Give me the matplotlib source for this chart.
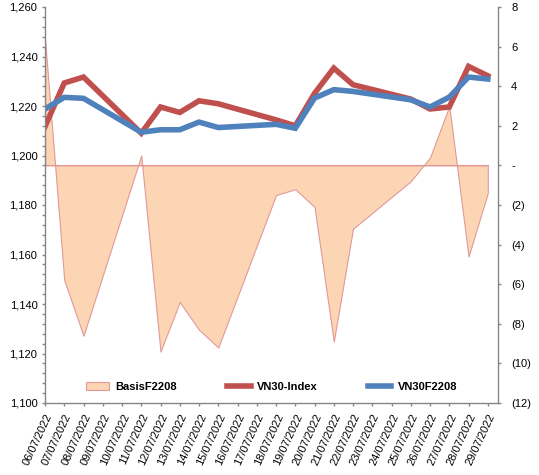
import numpy as np
import pandas as pd
import matplotlib
matplotlib.use("Agg")
from matplotlib import pyplot as plt
import matplotlib.dates as mdates
from matplotlib.patches import Patch
from matplotlib.lines import Line2D
from matplotlib.ticker import FuncFormatter, MultipleLocator

plt.rcParams["font.family"] = ["Liberation Sans", "DejaVu Sans"]
plt.rcParams["font.size"] = 8

# trading days
dates = ["06/07/2022", "07/07/2022", "08/07/2022", "11/07/2022", "12/07/2022",
         "13/07/2022", "14/07/2022", "15/07/2022", "18/07/2022", "19/07/2022",
         "20/07/2022", "21/07/2022", "22/07/2022", "25/07/2022", "26/07/2022",
         "27/07/2022", "28/07/2022", "29/07/2022"]
vn30_index = [1211.7, 1229.3, 1231.7, 1209.0, 1219.6, 1217.4, 1222.1, 1220.9, 1214.4,
              1212.0, 1225.1, 1235.3, 1228.6, 1222.8, 1218.8, 1219.6, 1236.0, 1232.2]
vn30f2208 = [1218.8, 1223.5, 1223.1, 1209.4, 1210.4, 1210.4, 1213.5, 1211.3, 1212.6,
             1211.0, 1223.2, 1226.6, 1225.9, 1222.5, 1219.6, 1223.6, 1231.7, 1230.9]
basis = [6.4, -5.8, -8.6, 0.5, -9.4, -6.9, -8.3, -9.2, -1.5,
         -1.2, -2.1, -8.9, -3.2, -0.8, 0.4, 3.0, -4.6, -1.4]

x = pd.to_datetime(dates, format="%d/%m/%Y")

fig = plt.figure(figsize=(5.39, 4.75), dpi=100)
ax = fig.add_axes([45 / 539, 1 - 403 / 475, 453 / 539, 396 / 475])
ax2 = ax.twinx()
ax.set_zorder(ax2.get_zorder() + 1)
ax.patch.set_visible(False)

fill_col = "#FCD5B5"
edge_col = "#E09A98"
red = "#C0504D"
blue = "#4F81BD"
grey = "#868686"

# area on secondary axis
ax2.fill_between(x, 0, basis, facecolor=fill_col, edgecolor=edge_col, linewidth=0.8)
ax2.plot([x[0], x[-1]], [0, 0], color=edge_col, linewidth=0.8)
ax2.set_ylim(-12, 8)
ax2.yaxis.set_major_locator(MultipleLocator(2))


def basis_fmt(v, pos):
    if abs(v) < 1e-9:
        return "-"
    if v < 0:
        return "(%d)" % round(-v)
    return "%d" % round(v)


ax2.yaxis.set_major_formatter(FuncFormatter(basis_fmt))

# lines on primary axis
ax.plot(x, vn30_index, color=red, linewidth=4.0, solid_joinstyle="miter")
ax.plot(x, vn30f2208, color=blue, linewidth=4.0, solid_joinstyle="miter")
ax.set_ylim(1100, 1260)
ax.yaxis.set_major_locator(MultipleLocator(20))
ax.yaxis.set_minor_locator(MultipleLocator(4))
ax.yaxis.set_major_formatter(FuncFormatter(lambda v, p: "{:,.0f}".format(v)))

ax.set_xlim(x[0], x[0] + pd.Timedelta(days=23.53))
ax.xaxis.set_major_locator(mdates.DayLocator())
ax.xaxis.set_major_formatter(mdates.DateFormatter("%d/%m/%Y"))
for lab in ax.get_xticklabels():
    lab.set_rotation(65)
    lab.set_ha("right")
    lab.set_rotation_mode("anchor")

for a in (ax, ax2):
    for s in a.spines.values():
        s.set_color(grey)
        s.set_linewidth(1.0)
    a.spines["top"].set_visible(False)
    a.tick_params(which="both", color=grey, length=2.5, width=1.0, pad=3, labelsize=8)
ax.spines["right"].set_visible(False)
ax2.spines["left"].set_visible(False)
ax2.spines["bottom"].set_visible(False)
ax.tick_params(axis="y", which="minor", length=2.5)
ax.tick_params(axis="x", pad=4)
ax2.tick_params(axis="y", pad=7)

handles = [Patch(facecolor=fill_col, edgecolor=edge_col, linewidth=0.8),
           Line2D([], [], color=red, linewidth=4.0),
           Line2D([], [], color=blue, linewidth=4.0)]
labels = ["BasisF2208", "VN30-Index", "VN30F2208"]
ax.legend(handles, labels, loc="center", bbox_to_anchor=(0.5, 0.041), ncol=3,
          frameon=False, handlelength=2.1, handletextpad=0.6, columnspacing=4.5,
          prop={"weight": "bold", "size": 8})

fig.savefig("out.png", dpi=100)
